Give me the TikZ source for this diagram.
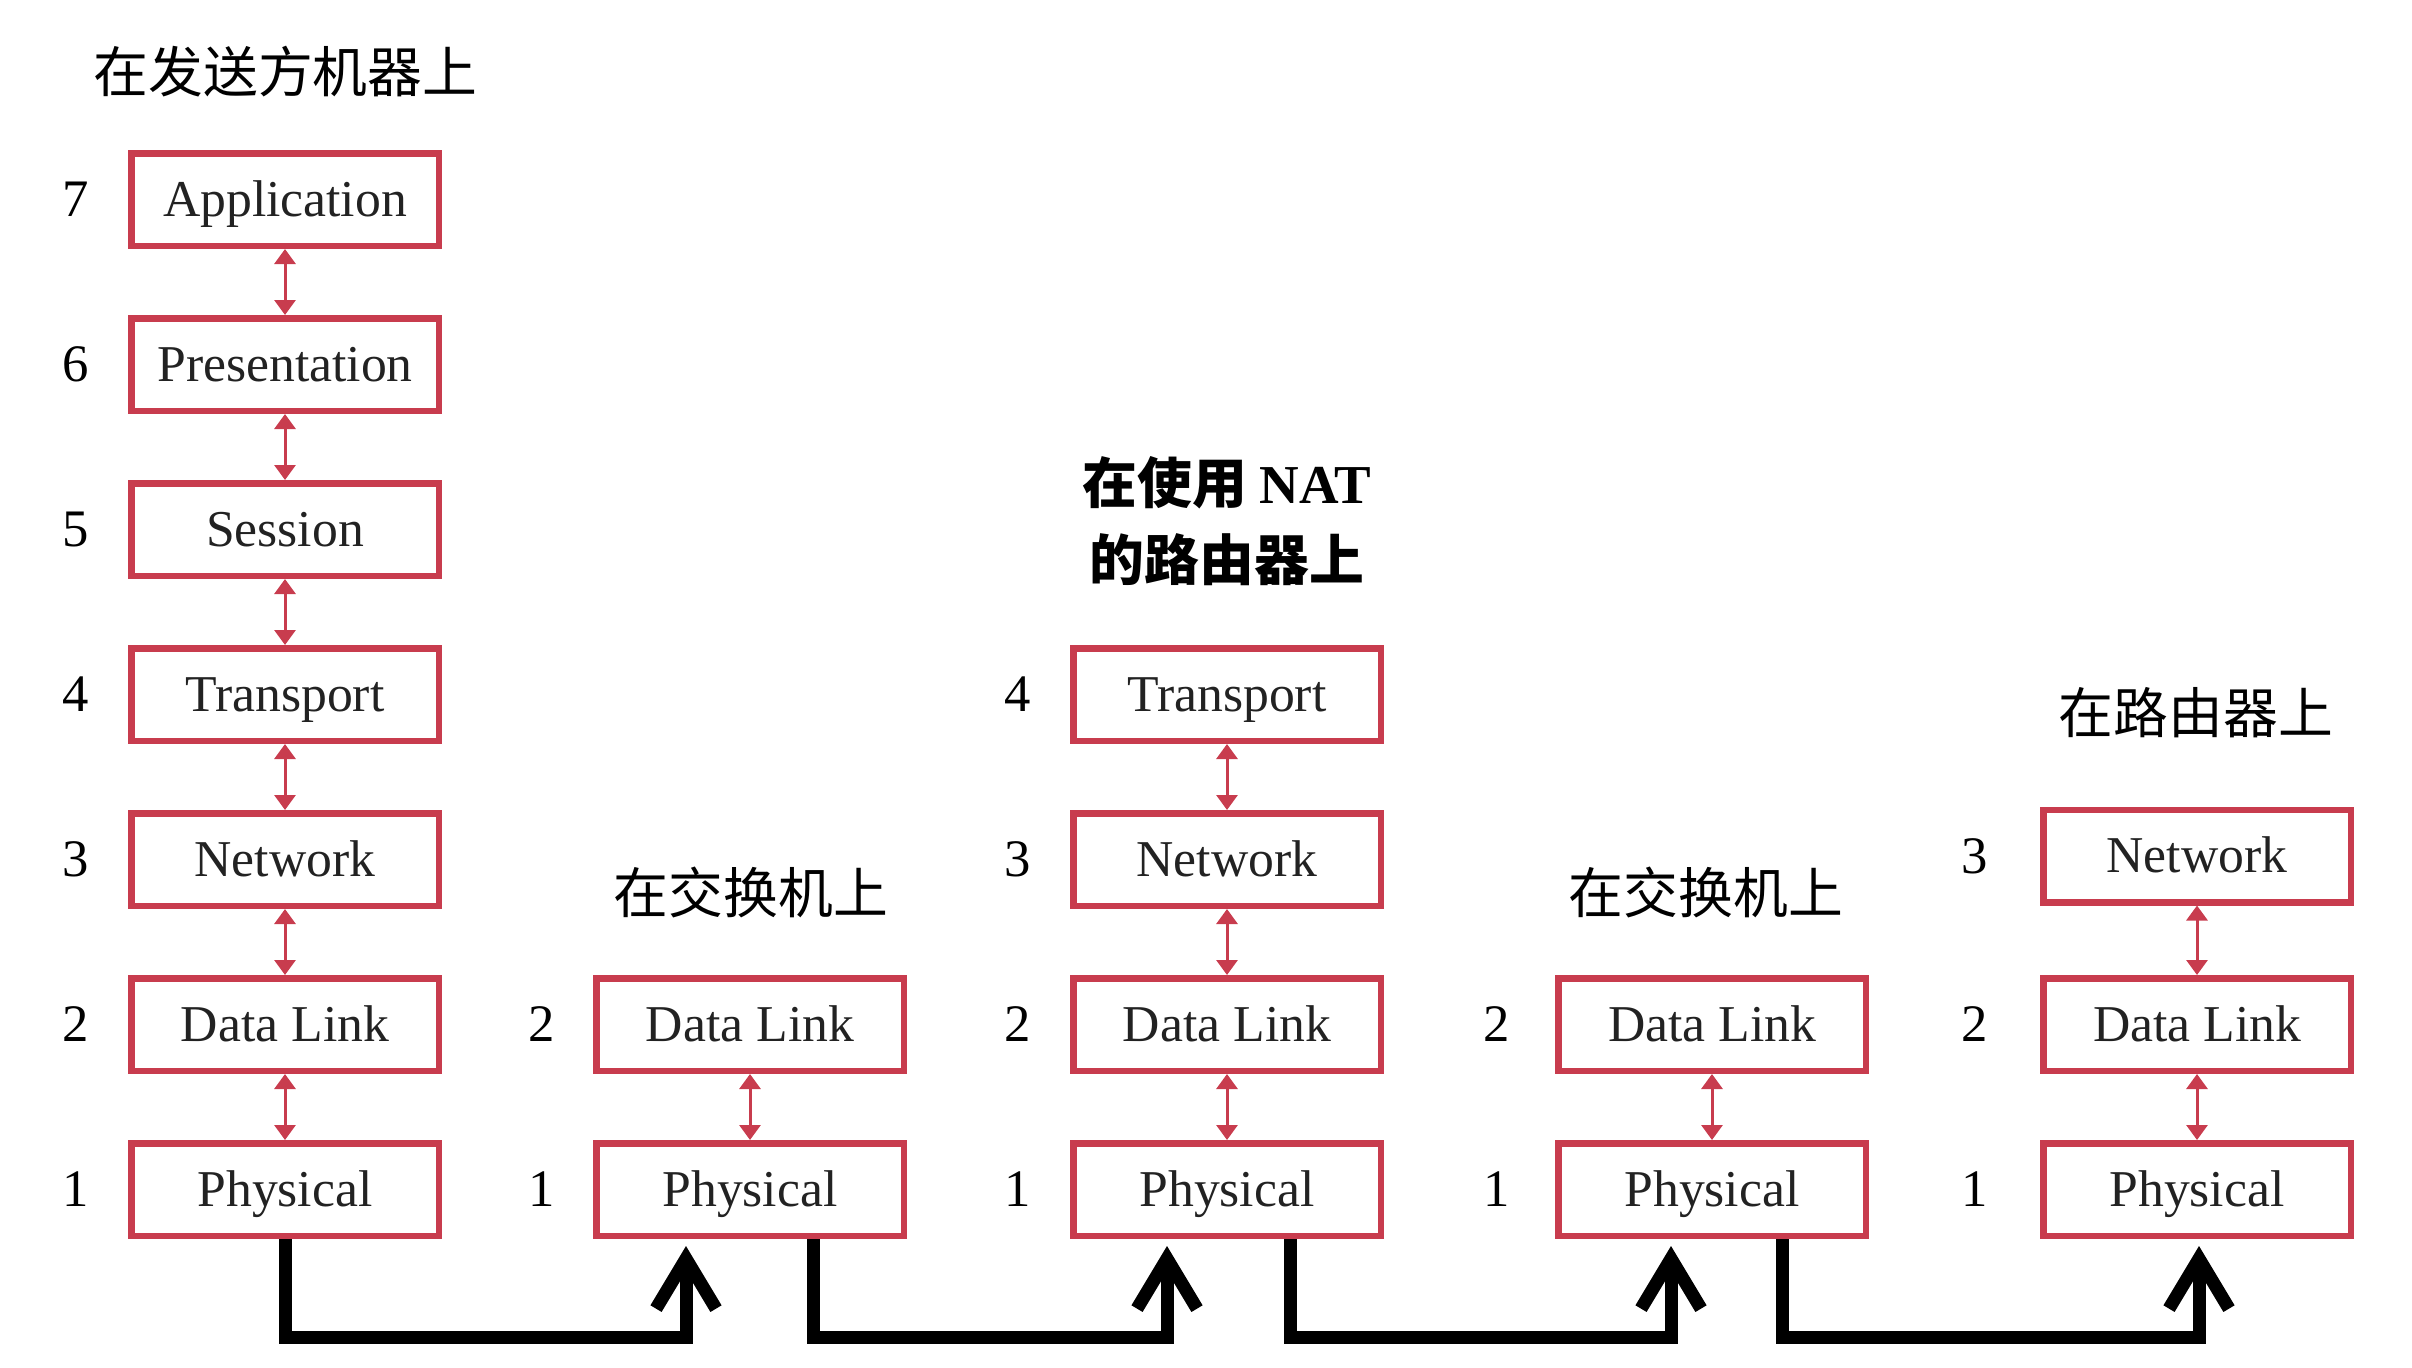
\documentclass[tikz,border=0pt]{standalone}
\usepackage{fontspec}
\setmainfont{Liberation Serif}
\newfontfamily\cjk{Noto Sans CJK SC}
\usepackage{tikz}
\usetikzlibrary{arrows.meta,positioning,calc}
\definecolor{rojo}{RGB}{200,60,78}
\definecolor{tinta}{RGB}{34,34,34}
\tikzset{
  capa/.style={draw=rojo,line width=0.065cm,minimum width=3.075cm,minimum height=0.925cm,inner sep=0pt,
    text=tinta,text height=12.6pt,text depth=3pt,font=\fontsize{14.7}{18}\selectfont},
  num/.style={inner sep=0pt,font=\fontsize{15}{18}\selectfont},
  titulo/.style={align=center,inner sep=0pt,font=\cjk\fontsize{15.6}{22.1}\selectfont},
  enlace/.style={{Triangle[length=0.15cm,width=0.21cm]}-{Triangle[length=0.15cm,width=0.21cm]},rojo,line width=0.03cm},
  cable/.style={-{Straight Barb[length=0.5cm,width=0.6cm]},line width=0.13cm}
}

\begin{document}
\begin{tikzpicture}
\useasboundingbox (0,0) rectangle (24.12,-13.68);
% emisor
\node[titulo] (t1) at (2.855,-0.72) {在发送方机器上};
\node[capa] (a7) at (2.85,-1.995) {Application};
\node[capa] (a6) at (2.85,-3.645) {Presentation};
\node[capa] (a5) at (2.85,-5.295) {Session};
\node[capa] (a4) at (2.85,-6.945) {Transport};
\node[capa] (a3) at (2.85,-8.595) {Network};
\node[capa] (a2) at (2.85,-10.245) {Data Link};
\node[capa] (a1) at (2.85,-11.895) {Physical};
\node[num,left=0.38cm of a7] (n7) {7};
\node[num,left=0.38cm of a6] (n6) {6};
\node[num,left=0.38cm of a5] (n5) {5};
\node[num,left=0.38cm of a4] (n4) {4};
\node[num,left=0.38cm of a3] (n3) {3};
\node[num,left=0.38cm of a2] (n2) {2};
\node[num,left=0.38cm of a1] (n1) {1};
% primer conmutador
\node[titulo] (t2) at (7.51,-8.92) {在交换机上};
\node[capa] (b2) at (7.50,-10.245) {Data Link};
\node[capa] (b1) at (7.50,-11.895) {Physical};
\node[num,left=0.37cm of b2] (m2) {2};
\node[num,left=0.37cm of b1] (m1) {1};
% router con NAT
\node[titulo] (t3) at (12.27,-5.21) {\textbf{在使用 }\textbf{\rmfamily NAT}\\\textbf{的路由器上}};
\node[capa] (c4) at (12.27,-6.945) {Transport};
\node[capa] (c3) at (12.27,-8.595) {Network};
\node[capa] (c2) at (12.27,-10.245) {Data Link};
\node[capa] (c1) at (12.27,-11.895) {Physical};
\node[num,left=0.38cm of c4] (p4) {4};
\node[num,left=0.38cm of c3] (p3) {3};
\node[num,left=0.38cm of c2] (p2) {2};
\node[num,left=0.38cm of c1] (p1) {1};
% segundo conmutador
\node[titulo] (t4) at (17.06,-8.92) {在交换机上};
\node[capa] (d2) at (17.12,-10.245) {Data Link};
\node[capa] (d1) at (17.12,-11.895) {Physical};
\node[num,left=0.44cm of d2] (q2) {2};
\node[num,left=0.44cm of d1] (q1) {1};
% router
\node[titulo] (t5) at (21.96,-7.13) {在路由器上};
\node[capa] (e3) at (21.97,-8.56) {Network};
\node[capa] (e2) at (21.97,-10.245) {Data Link};
\node[capa] (e1) at (21.97,-11.895) {Physical};
\node[num,left=0.51cm of e3] (r3) {3};
\node[num,left=0.51cm of e2] (r2) {2};
\node[num,left=0.51cm of e1] (r1) {1};
% capas
\draw[enlace] (a7) -- (a6);
\draw[enlace] (a6) -- (a5);
\draw[enlace] (a5) -- (a4);
\draw[enlace] (a4) -- (a3);
\draw[enlace] (a3) -- (a2);
\draw[enlace] (a2) -- (a1);
\draw[enlace] (b2) -- (b1);
\draw[enlace] (c4) -- (c3);
\draw[enlace] (c3) -- (c2);
\draw[enlace] (c2) -- (c1);
\draw[enlace] (d2) -- (d1);
\draw[enlace] (e3) -- (e2);
\draw[enlace] (e2) -- (e1);
% cables
\draw[cable] (a1.south) -- ++(0,-0.98) -| ([xshift=-0.64cm,yshift=-0.07cm]b1.south);
\draw[cable] ([xshift=0.63cm]b1.south) -- ++(0,-0.98) -| ([xshift=-0.60cm,yshift=-0.07cm]c1.south);
\draw[cable] ([xshift=0.63cm]c1.south) -- ++(0,-0.98) -| ([xshift=-0.41cm,yshift=-0.07cm]d1.south);
\draw[cable] ([xshift=0.70cm]d1.south) -- ++(0,-0.98) -| ([xshift=0.02cm,yshift=-0.07cm]e1.south);
\end{tikzpicture}
\end{document}
